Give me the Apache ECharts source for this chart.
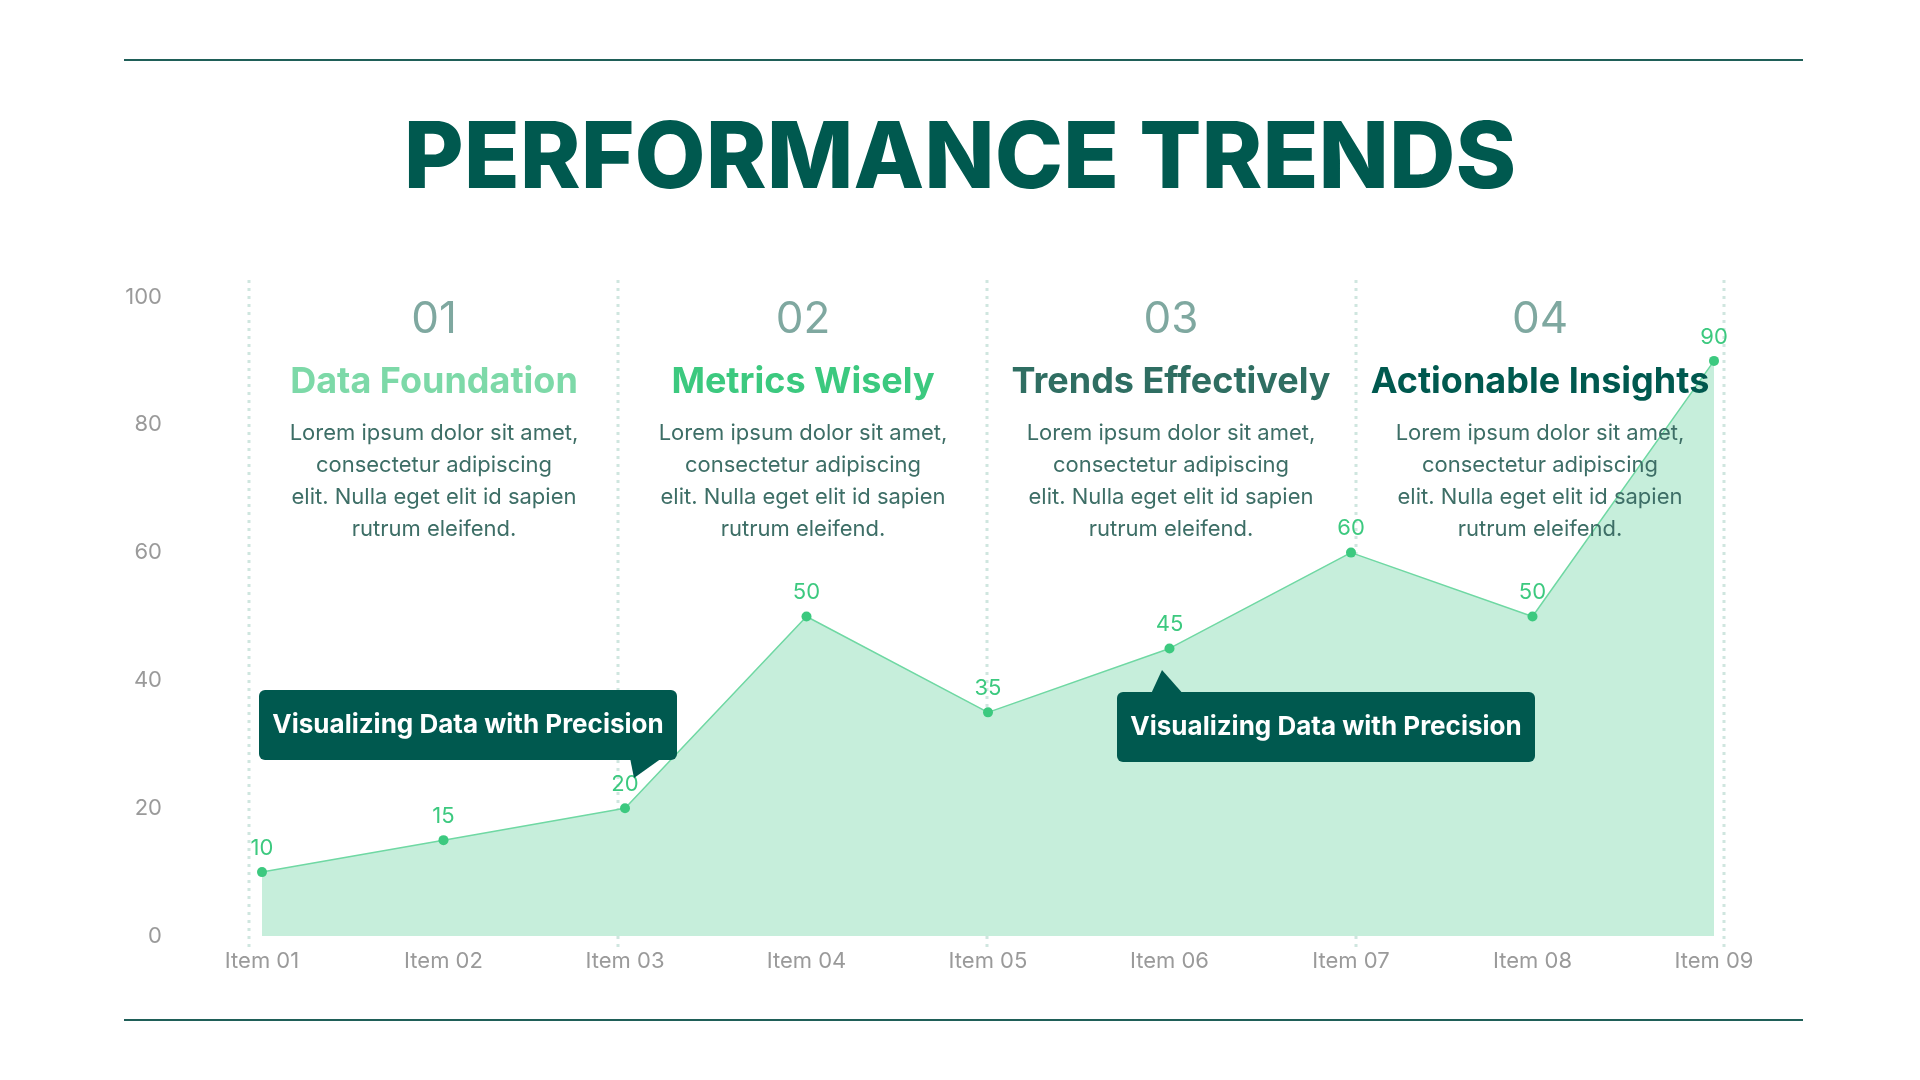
<!DOCTYPE html>
<html><head><meta charset="utf-8">
<script src="https://cdn.jsdelivr.net/npm/echarts@6/dist/echarts.min.js"></script>
<style>html,body{margin:0;background:#fff}#c{width:1920px;height:1080px}</style>
</head><body><div id="c"></div>
<script>
const categories=['Item 01','Item 02','Item 03','Item 04','Item 05','Item 06','Item 07','Item 08','Item 09'];
const values=[10,15,20,50,35,45,60,50,90];
const yTicks=[0,20,40,60,80,100];
const sectionNums=['01','02','03','04'];
const sectionTitles=['Data Foundation','Metrics Wisely','Trends Effectively','Actionable Insights'];
const sectionColors=['#7dd9a8','#3cc97f','#2f6e62','#00594f'];
const bodyText='Lorem ipsum dolor sit amet,\nconsectetur adipiscing\nelit. Nulla eget elit id sapien\nrutrum eleifend.';
const calloutText='Visualizing Data with Precision';

const F='Inter, "Noto Sans", sans-serif';
const DARK='#00594f';
const g=[];
g.push({type:'line',shape:{x1:124,y1:60,x2:1803,y2:60},style:{stroke:'#1f5f58',lineWidth:2}});
g.push({type:'line',shape:{x1:124,y1:1020,x2:1803,y2:1020},style:{stroke:'#1f5f58',lineWidth:2}});
g.push({type:'text',x:960,y:160,style:{text:'PERFORMANCE TRENDS',font:'800 92px '+F,fill:DARK,textAlign:'center',textVerticalAlign:'middle'}});
[249,618,987,1356,1724].forEach(x=>g.push({type:'line',z:1,shape:{x1:x,y1:280,x2:x,y2:948},style:{stroke:'#cfe6df',lineWidth:3,lineDash:[3,5]}}));
const cx=[434,803,1171,1540];
cx.forEach((x,i)=>{
 g.push({type:'text',x:x,y:320,z:10,style:{text:sectionNums[i],font:'400 44px '+F,fill:'#7fa8a0',textAlign:'center',textVerticalAlign:'middle'}});
 g.push({type:'text',x:x,y:382,z:10,style:{text:sectionTitles[i],font:'700 36px '+F,fill:sectionColors[i],textAlign:'center',textVerticalAlign:'middle'}});
 g.push({type:'text',x:x,y:417,z:10,style:{text:bodyText,font:'400 22px '+F,fill:'#3d6e66',textAlign:'center',textVerticalAlign:'top',lineHeight:32}});
});
function callout(x,y,w,h,tail){
 g.push({type:'polygon',z:20,shape:{points:tail},style:{fill:DARK}});
 g.push({type:'rect',z:20,shape:{x:x,y:y,width:w,height:h,r:6},style:{fill:DARK}});
 g.push({type:'text',z:21,x:x+w/2,y:y+h/2,style:{text:calloutText,font:'700 26px '+F,fill:'#fff',textAlign:'center',textVerticalAlign:'middle'}});
}
callout(259,690,418,70,[[630,758],[662,758],[634,778]]);
callout(1117,692,418,70,[[1150,696],[1185,696],[1162,670]]);

echarts.init(document.getElementById('c')).setOption({
 animation:false,
 grid:{left:262,right:206,top:297,bottom:144},
 xAxis:{type:'category',data:categories,boundaryGap:false,axisLine:{show:false},axisTick:{show:false},
  axisLabel:{color:'#9a9a9a',fontSize:22,fontFamily:F,margin:14}},
 yAxis:{type:'value',min:0,max:100,interval:20,splitLine:{show:false},
  axisLabel:{color:'#9a9a9a',fontSize:22,fontFamily:F,margin:100,align:'right'}},
 series:[{type:'line',data:values,symbol:'circle',symbolSize:10,
  lineStyle:{color:'#6fd8a3',width:1.5},itemStyle:{color:'#3cc97f'},
  areaStyle:{color:'#c6eedb',opacity:1},
  label:{show:true,position:'top',color:'#3cc97f',fontSize:22,fontFamily:F,distance:8}}],
 graphic:g
});
</script></body></html>
